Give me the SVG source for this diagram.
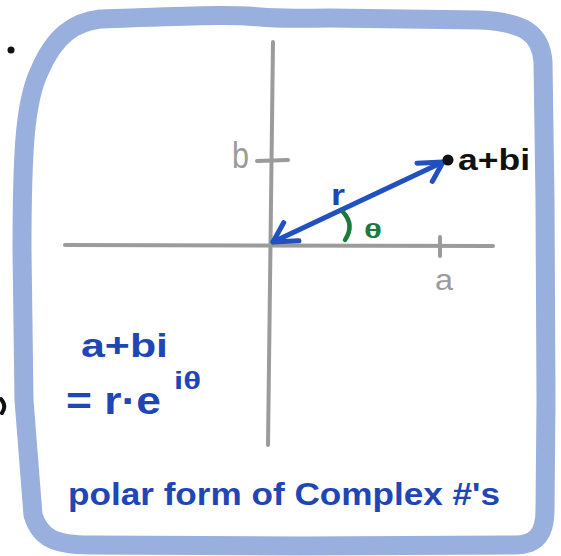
<svg xmlns="http://www.w3.org/2000/svg" width="561" height="556" viewBox="0 0 561 556">
<style>
.frame{fill:none;stroke:#99afdd;stroke-width:19;stroke-linejoin:round;stroke-linecap:round}
.axis{fill:none;stroke:#9b9b9b;stroke-width:4;stroke-linecap:round}
.gray{font-family:"Liberation Sans",Arial,sans-serif;fill:#9b9b9b}
.blue{font-family:"Liberation Sans",Arial,sans-serif;font-weight:bold;fill:#1e46b4}
.black{font-family:"Liberation Sans",Arial,sans-serif;font-weight:bold;fill:#111}
.green{font-family:"Liberation Sans",Arial,sans-serif;font-weight:bold;fill:#1b7a3c}
.vec{fill:none;stroke:#2150c0;stroke-width:5;stroke-linecap:round}
</style>
<defs>
<marker id="ah" viewBox="-30 -16 34 32" refX="0" refY="0" markerWidth="34" markerHeight="32" markerUnits="userSpaceOnUse" orient="auto-start-reverse">
<path d="M-24,-10 L0,0 L-18,13" fill="none" stroke="#2150c0" stroke-width="5" stroke-linecap="round" stroke-linejoin="round"/>
</marker>
</defs>
<rect width="561" height="556" fill="#ffffff"/>
<g id="outside-marks">
<circle cx="11" cy="50" r="3.5" fill="#111"/>
<path d="M1,399 Q7,406 2,413" fill="none" stroke="#111" stroke-width="4" stroke-linecap="round"/>
</g>
<g id="frame">
<path class="frame" d="M100,19 C180,16 230,14 260,17 C280,19 300,18 330,18 L480,20 C522,22 541,32 543,62 L545,200 L546,400 L545,510 C545,535 535,545 515,545 L300,546 L90,545 C55,545 40,538 33,515 L24,400 L22,250 C22,150 25,100 40,70 C55,35 75,22 100,19 Z"/>
</g>
<g id="axes">
<path class="axis" d="M273,42 L268,445"/>
<path class="axis" d="M65,245 L493,246"/>
<path class="axis" d="M257,161 L288,160"/>
<path class="axis" d="M440,237 L440,256"/>
<text class="gray" x="232" y="168" font-size="36" textLength="17" lengthAdjust="spacingAndGlyphs">b</text>
<text class="gray" x="435" y="290" font-size="30" textLength="18" lengthAdjust="spacingAndGlyphs">a</text>
</g>
<g id="connectors">
<path class="vec" d="M273,242 L443,162" marker-start="url(#ah)" marker-end="url(#ah)"/>
</g>
<g id="point">
<circle cx="448" cy="160" r="5.5" fill="#111"/>
<text class="black" x="458" y="170" font-size="30" textLength="72" lengthAdjust="spacingAndGlyphs">a+bi</text>
</g>
<g id="labels">
<text class="blue" x="331" y="205" font-size="30" textLength="14" lengthAdjust="spacingAndGlyphs">r</text>
<path d="M343,212 Q355,225 345,240" fill="none" stroke="#1b7a3c" stroke-width="4.5" stroke-linecap="round"/>
<text class="green" x="364" y="238" font-size="21" textLength="18" lengthAdjust="spacingAndGlyphs">θ</text>
</g>
<g id="formula">
<text class="blue" x="81" y="357" font-size="34" textLength="87" lengthAdjust="spacingAndGlyphs">a+bi</text>
<text class="blue" x="66" y="414" font-size="38" textLength="95" lengthAdjust="spacingAndGlyphs">= r·e</text>
<text class="blue" x="174" y="389" font-size="24" textLength="27" lengthAdjust="spacingAndGlyphs">iθ</text>
</g>
<g id="caption">
<text class="blue" x="68" y="505" font-size="32" textLength="432" lengthAdjust="spacingAndGlyphs">polar form of Complex #'s</text>
</g>
</svg>
